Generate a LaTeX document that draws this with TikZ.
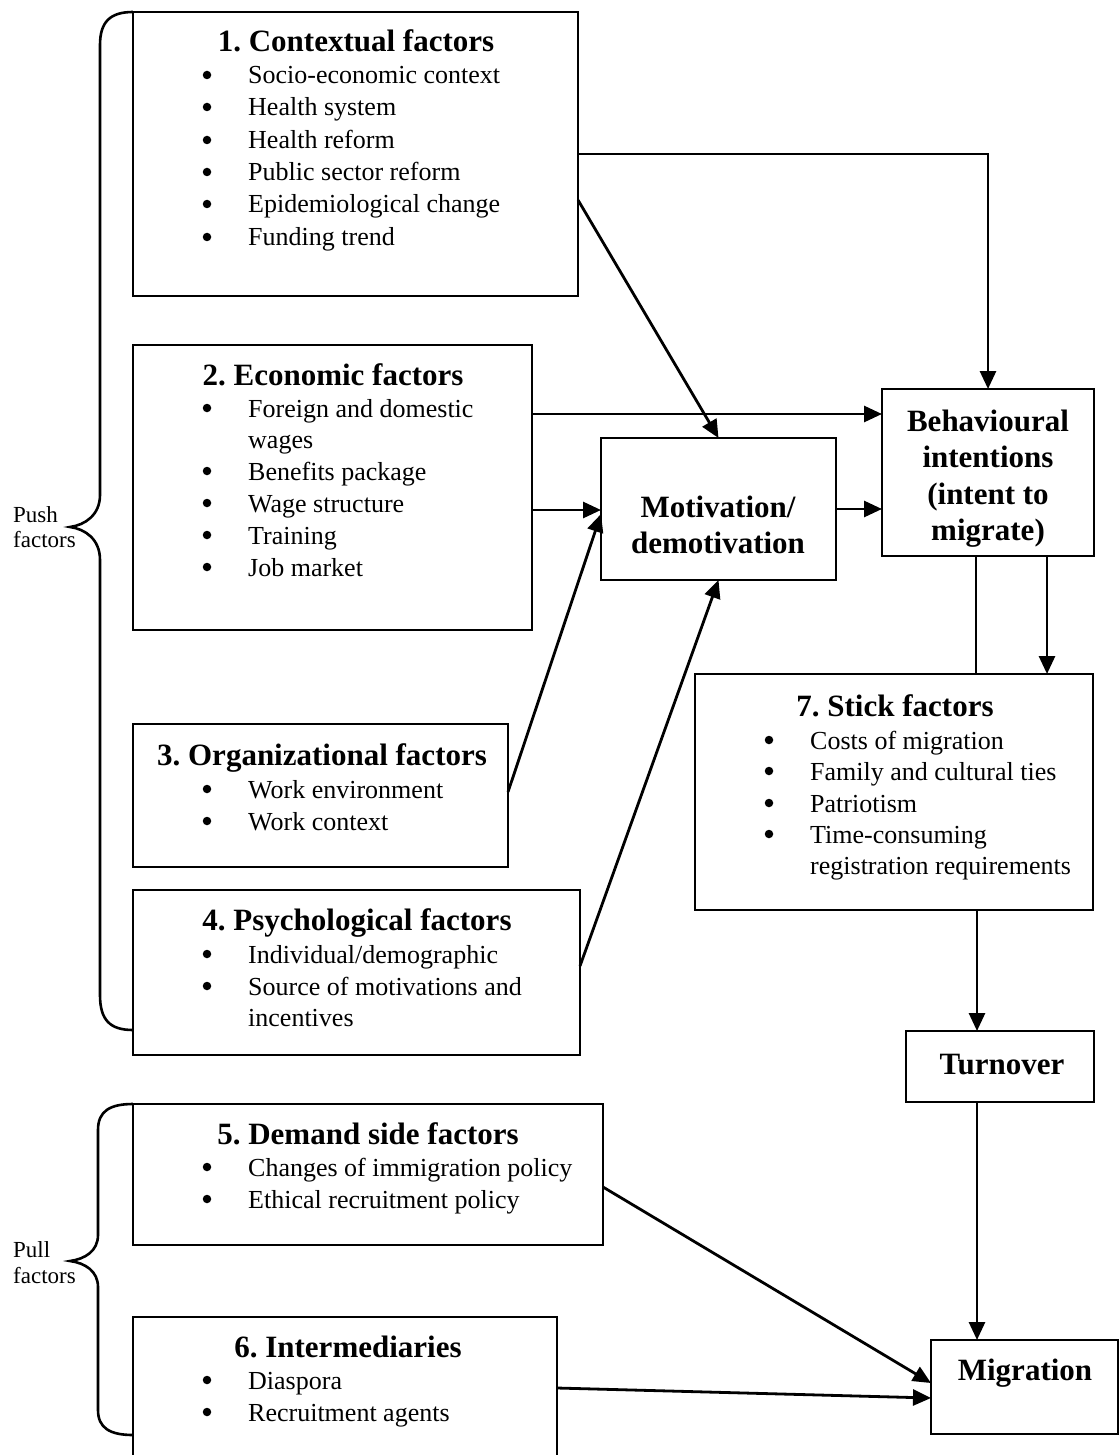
\documentclass[tikz,border=0pt]{standalone}
\usepackage{fontspec}
\setmainfont{Liberation Serif}
\usetikzlibrary{arrows.meta}
\frenchspacing
\newcommand\bitem[4]{\node[bul] (#1b) at (#2,#3-9) {}; \node[itm] (#1) at (#2+41,#3) {#4};}
\begin{document}
\begin{tikzpicture}[x=1pt,y=-1pt,
  box/.style={draw,line width=2.8pt,anchor=north west,inner sep=0pt,outer sep=0pt},
  ttl/.style={anchor=base,font=\fontsize{31}{34}\selectfont\bfseries,inner sep=0pt},
  itm/.style={anchor=base west,font=\fontsize{26}{32}\selectfont,inner sep=0pt},
  bul/.style={circle,fill,inner sep=0pt,minimum size=8.5pt},
  side/.style={anchor=base west,font=\fontsize{23}{26}\selectfont,inner sep=0pt},
  arr/.style={line width=2.8pt,-{Triangle[length=18pt,width=16pt]}},
  ln/.style={line width=2.8pt},
  bracestyle/.style={line width=2.6pt}
]
\fill[white] (0,0) rectangle (1119,1455);
\useasboundingbox (0,0) rectangle (1119,1455);

% boxes
\node[box,minimum width=445pt,minimum height=284pt] (b1) at (133,12) {};
\node[box,minimum width=399pt,minimum height=285pt] (b2) at (133,345) {};
\node[box,minimum width=375pt,minimum height=143pt] (b3) at (133,724) {};
\node[box,minimum width=447pt,minimum height=165pt] (b4) at (133,890) {};
\node[box,minimum width=470pt,minimum height=141pt] (b5) at (133,1104) {};
\node[box,minimum width=424pt,minimum height=140pt] (b6) at (133,1317) {};
\node[box,minimum width=235pt,minimum height=142pt] (mot) at (601,438) {};
\node[box,minimum width=212pt,minimum height=167pt] (beh) at (882,389) {};
\node[box,minimum width=398pt,minimum height=236pt] (b7) at (695,674) {};
\node[box,minimum width=188pt,minimum height=71pt] (turn) at (906,1031) {};
\node[box,minimum width=187pt,minimum height=94pt] (mig) at (931,1340) {};

% box 1
\node[ttl] (t1) at (356,52) {1. Contextual factors};
\bitem{a1}{207}{84}{Socio-economic context}
\bitem{a2}{207}{116}{Health system}
\bitem{a3}{207}{149}{Health reform}
\bitem{a4}{207}{181}{Public sector reform}
\bitem{a5}{207}{213}{Epidemiological change}
\bitem{a6}{207}{246}{Funding trend}

% box 2
\node[ttl] (t2) at (333,385) {2. Economic factors};
\bitem{c1}{207}{417}{Foreign and domestic}
\node[itm] (c1x) at (248,448) {wages};
\bitem{c2}{207}{480}{Benefits package}
\bitem{c3}{207}{512}{Wage structure}
\bitem{c4}{207}{544}{Training}
\bitem{c5}{207}{576}{Job market}

% box 3
\node[ttl] (t3) at (322,765) {3. Organizational factors};
\bitem{d1}{207}{798}{Work environment}
\bitem{d2}{207}{830}{Work context}

% box 4
\node[ttl] (t4) at (357,930) {4. Psychological factors};
\bitem{e1}{207}{963}{Individual/demographic}
\bitem{e2}{207}{995}{Source of motivations and}
\node[itm] (e2x) at (248,1026) {incentives};

% box 5
\node[ttl] (t5) at (368,1144) {5. Demand side factors};
\bitem{f1}{207}{1176}{Changes of immigration policy}
\bitem{f2}{207}{1208}{Ethical recruitment policy}

% box 6
\node[ttl] (t6) at (348,1357) {6. Intermediaries};
\bitem{g1}{207}{1389}{Diaspora}
\bitem{g2}{207}{1421}{Recruitment agents}

% box 7
\node[ttl] (t7) at (895,716) {7. Stick factors};
\bitem{h1}{769}{749}{Costs of migration}
\bitem{h2}{769}{780}{Family and cultural ties}
\bitem{h3}{769}{812}{Patriotism}
\bitem{h4}{769}{843}{Time-consuming}
\node[itm] (h4x) at (810,874) {registration requirements};

% center boxes
\node[ttl] (m1) at (718,517) {Motivation/};
\node[ttl] (m2) at (718,553) {demotivation};
\node[ttl] (k1) at (988,431) {Behavioural};
\node[ttl] (k2) at (988,467) {intentions};
\node[ttl] (k3) at (988,504) {(intent to};
\node[ttl] (k4) at (988,540) {migrate)};
\node[ttl] (tu) at (1002,1074) {Turnover};
\node[ttl] (mi) at (1025,1380) {Migration};

% side labels
\node[side] (p1) at (13,522) {Push};
\node[side] (p2) at (13,547) {factors};
\node[side] (q1) at (13,1257) {Pull};
\node[side] (q2) at (13,1283) {factors};

% braces
\draw[bracestyle] (133,12) .. controls (110,12) and (100,22) .. (100,45) -- (100,495)
  .. controls (100,515) and (85,525) .. (70,527)
  .. controls (85,529) and (100,539) .. (100,560) -- (100,995)
  .. controls (100,1020) and (110,1030) .. (133,1030);
\draw[bracestyle] (133,1104) .. controls (110,1104) and (98,1111) .. (98,1130) -- (98,1235)
  .. controls (98,1251) and (85,1259) .. (70,1261)
  .. controls (85,1263) and (98,1271) .. (98,1287) -- (98,1410)
  .. controls (98,1428) and (110,1435) .. (133,1435);

% connectors
\draw[arr] (b1.east |- 0,154) -| (beh.north);
\draw[arr] (b1.east |- 0,200) -- (mot.north);
\draw[arr] (b2.east |- 0,414) -- (beh.west |- 0,414);
\draw[arr] (b2.east |- 0,510) -- (mot.west |- 0,510);
\draw[arr] (mot.east |- 0,509) -- (beh.west |- 0,509);
\draw[arr] (b3.east |- 0,792) -- (mot.west |- 0,514);
\draw[arr] (b4.east |- 0,966) -- (mot.south);
\draw[ln] (beh.south -| 976,0) -- (b7.north -| 976,0);
\draw[arr] (beh.south -| 1047,0) -- (b7.north -| 1047,0);
\draw[arr] (b7.south -| 977,0) -- (turn.north -| 977,0);
\draw[arr] (turn.south -| 977,0) -- (mig.north -| 977,0);
\draw[arr] (b5.east |- 0,1187) -- (mig.west |- 0,1383);
\draw[arr] (b6.east |- 0,1388) -- (mig.west |- 0,1398);
\end{tikzpicture}
\end{document}
